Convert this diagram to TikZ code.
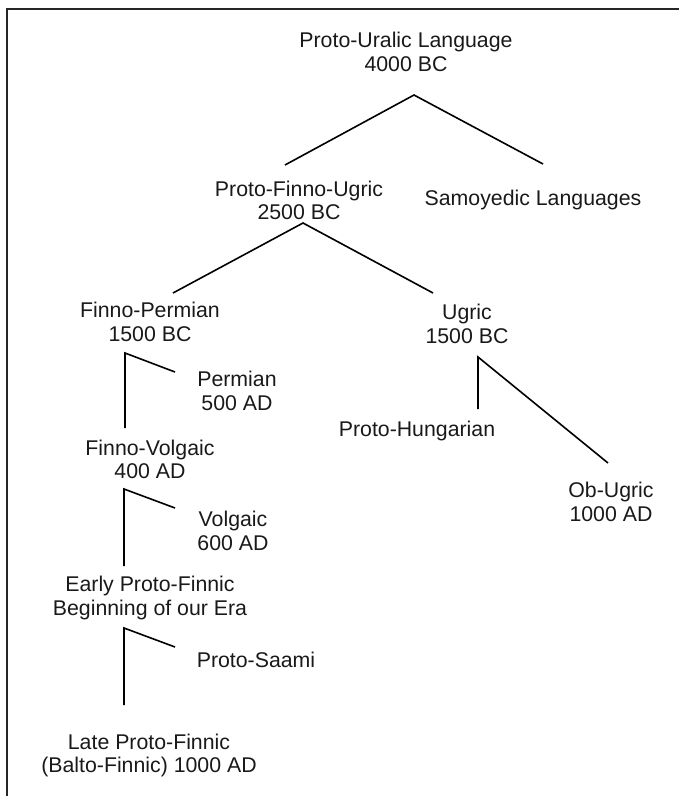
\documentclass[tikz,border=0pt]{standalone}
\usepackage{fontspec}
\setmainfont{Liberation Sans}
\begin{document}
\begin{tikzpicture}[x=1pt,y=-1pt,
  lbl/.style={inner sep=0pt,align=center,text=black!90,
    font=\fontsize{21.3}{23.5}\selectfont,
    execute at begin node={\rule{0pt}{16pt}},
    execute at end node={\rule[-5pt]{0pt}{5pt}}},
  branch/.style={draw=black,line width=1.6pt,line cap=butt,line join=miter},
  frame/.style={draw=black!85,line width=2pt}]
\useasboundingbox (0,0) rectangle (679,796);
% frame (top and left sides)
\coordinate (fr-tr) at (679,9);
\coordinate (fr-tl) at (6.5,9);
\coordinate (fr-bl) at (6.5,796);
\draw[frame] (fr-tr) -- (fr-tl) -- (fr-bl);
% labels
\node[lbl] (ural)  at (406,54.5) {Proto-Uralic Language\\4000 BC};
\node[lbl] (pfu)   at (299,203)  {Proto-Finno-Ugric\\2500 BC};
\node[lbl] (samo)  at (533,200)  {Samoyedic Languages};
\node[lbl] (fp)    at (150,324.5){Finno-Permian\\1500 BC};
\node[lbl] (ugric) at (467,326.5){Ugric\\1500 BC};
\node[lbl] (perm)  at (237,393.5){Permian\\500 AD};
\node[lbl] (phun)  at (417,431)  {Proto-Hungarian};
\node[lbl] (fv)    at (150,462)  {Finno-Volgaic\\400 AD};
\node[lbl] (obu)   at (611,504.5){Ob-Ugric\\1000 AD};
\node[lbl] (volg)  at (233,533.5){Volgaic\\600 AD};
\node[lbl] (epf)   at (150,598.5){Early Proto-Finnic\\Beginning of our Era};
\node[lbl] (saami) at (256,662)  {Proto-Saami};
\node[lbl] (lpf)   at (149,756)  {Late Proto-Finnic\\(Balto-Finnic) 1000 AD};
% branch points
\coordinate (ural-b)  at (414,95);
\coordinate (pfu-t)   at (285,165);
\coordinate (samo-t)  at (543,164);
\coordinate (pfu-b)   at (303,223);
\coordinate (fp-t)    at (173,293);
\coordinate (ugric-t) at (433,293);
\coordinate (fp-b)    at (125,353);
\coordinate (fv-t)    at (125,428);
\coordinate (perm-t)  at (175,372);
\coordinate (fv-b)    at (124,489);
\coordinate (epf-t)   at (124,566);
\coordinate (volg-t)  at (175,508);
\coordinate (epf-b)   at (124,628);
\coordinate (lpf-t)   at (124,705);
\coordinate (saami-t) at (175,647);
\coordinate (ugric-b) at (478,357);
\coordinate (phun-t)  at (478,409);
\coordinate (obu-t)   at (608,463);
% connectors
\draw[branch] (pfu-t) -- (ural-b) -- (samo-t);
\draw[branch] (fp-t) -- (pfu-b) -- (ugric-t);
\draw[branch] (fv-t) -- (fp-b) -- (perm-t);
\draw[branch] (epf-t) -- (fv-b) -- (volg-t);
\draw[branch] (lpf-t) -- (epf-b) -- (saami-t);
\draw[branch] (phun-t) -- (ugric-b) -- (obu-t);
\end{tikzpicture}
\end{document}
